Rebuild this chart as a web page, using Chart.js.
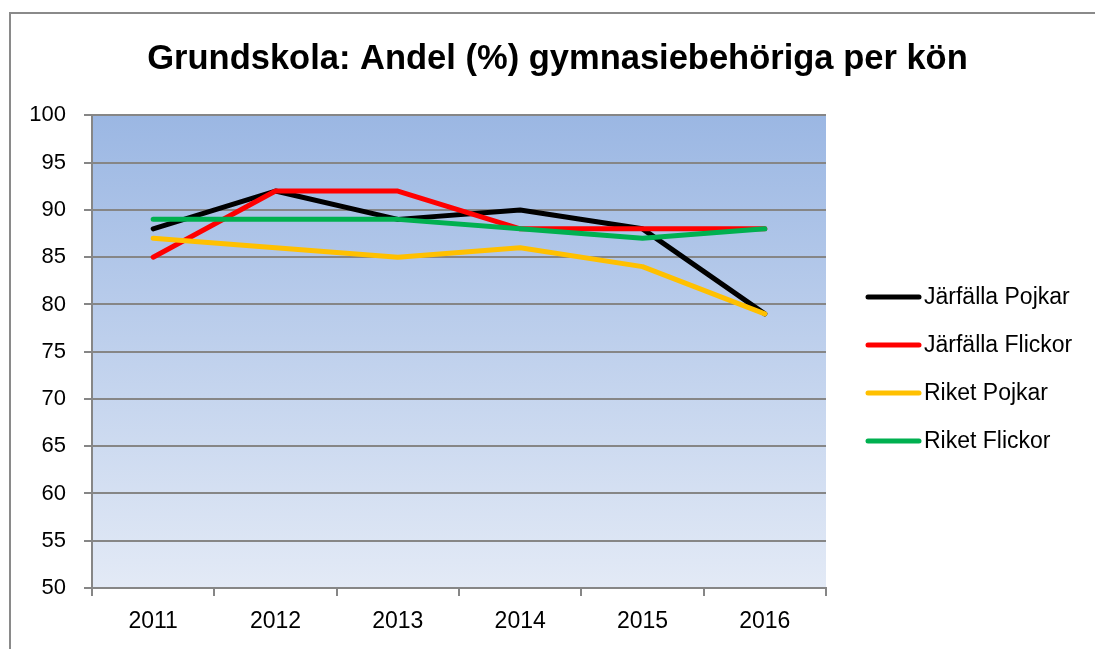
<!DOCTYPE html>
<html>
<head>
<meta charset="utf-8">
<script src="https://cdn.jsdelivr.net/npm/chart.js@4"></script>
<style>
  html, body { margin: 0; padding: 0; background: #fff; overflow: hidden; }
  #wrap { position: relative; width: 1095px; height: 649px; }
  #frame { position: absolute; left: 9px; top: 12px; width: 1200px; height: 800px; border: 2px solid #8a8a8a; box-sizing: border-box; }
  #chart { position: absolute; left: 0; top: 0; }
</style>
</head>
<body>
<div id="wrap">
  <div id="frame"></div>
  <canvas id="chart" width="1095" height="649"></canvas>
</div>
<script>
const years = ["2011", "2012", "2013", "2014", "2015", "2016"];
const jarfallaPojkar = [88, 92, 89, 90, 88, 79];
const jarfallaFlickor = [85, 92, 92, 88, 88, 88];
const riketPojkar = [87, 86, 85, 86, 84, 79];
const riketFlickor = [89, 89, 89, 88, 87, 88];

const FONT = "'Liberation Sans', Arial, sans-serif";
const GRID = "#868686";

// plot area gradient like the Excel fill
const plotBackground = {
  id: "plotBackground",
  beforeDraw(chart) {
    const { ctx, chartArea: a } = chart;
    const g = ctx.createLinearGradient(0, a.top, 0, a.bottom);
    g.addColorStop(0, "#9bb7e3");
    g.addColorStop(1, "#e3eaf6");
    ctx.save();
    ctx.fillStyle = g;
    ctx.fillRect(a.left, a.top, a.right - a.left, a.bottom - a.top);
    ctx.restore();
  },
};

// legend drawn to the right of the plot, Excel style line samples
const sideLegend = {
  id: "sideLegend",
  afterDraw(chart) {
    const { ctx } = chart;
    ctx.save();
    ctx.font = "23px " + FONT;
    ctx.textBaseline = "middle";
    ctx.textAlign = "left";
    chart.data.datasets.forEach((ds, i) => {
      const y = 297 + i * 48;
      ctx.strokeStyle = ds.borderColor;
      ctx.lineWidth = 5;
      ctx.lineCap = "round";
      ctx.beginPath();
      ctx.moveTo(868, y);
      ctx.lineTo(919, y);
      ctx.stroke();
      ctx.fillStyle = "#000";
      ctx.fillText(ds.label, 924, y + 1);
    });
    ctx.restore();
  },
};

function series(label, data, color, order) {
  return {
    label,
    data,
    borderColor: color,
    backgroundColor: color,
    borderWidth: 5,
    borderCapStyle: "round",
    borderJoinStyle: "round",
    pointRadius: 0,
    tension: 0,
    order,
  };
}

new Chart(document.getElementById("chart"), {
  type: "line",
  data: {
    labels: years,
    datasets: [
      series("Järfälla Pojkar", jarfallaPojkar, "#000000", 4),
      series("Järfälla Flickor", jarfallaFlickor, "#ff0000", 3),
      series("Riket Pojkar", riketPojkar, "#ffc000", 2),
      series("Riket Flickor", riketFlickor, "#00b050", 1),
    ],
  },
  options: {
    responsive: false,
    animation: false,
    layout: { padding: { left: 20, right: 0, top: 0, bottom: 0 } },
    plugins: {
      legend: { display: false },
      tooltip: { enabled: false },
      title: {
        display: true,
        text: "Grundskola: Andel (%) gymnasiebehöriga per kön",
        color: "#000",
        font: { family: FONT, size: 34.5, weight: "bold" },
        padding: { top: 39, bottom: 35 },
      },
    },
    scales: {
      x: {
        offset: true,
        afterFit(scale) { scale.height = 61; },
        grid: { offset: true, drawOnChartArea: false, drawTicks: true, tickLength: 8, color: GRID, lineWidth: 2 },
        border: { display: true, color: GRID, width: 2 },
        ticks: { color: "#000", padding: 12, font: { family: FONT, size: 23 } },
      },
      y: {
        min: 50,
        max: 100,
        afterFit(scale) { scale.width = 72; },
        grid: { color: GRID, lineWidth: 2, tickLength: 8 },
        border: { display: true, color: GRID, width: 2 },
        ticks: { stepSize: 5, color: "#000", padding: 18, font: { family: FONT, size: 22 } },
      },
      // empty right axis that only reserves room for the legend
      side: {
        position: "right",
        afterFit(scale) { scale.width = 269; },
        grid: { display: false },
        border: { display: false },
        ticks: { display: false },
      },
    },
  },
  plugins: [plotBackground, sideLegend],
});
</script>
</body>
</html>
